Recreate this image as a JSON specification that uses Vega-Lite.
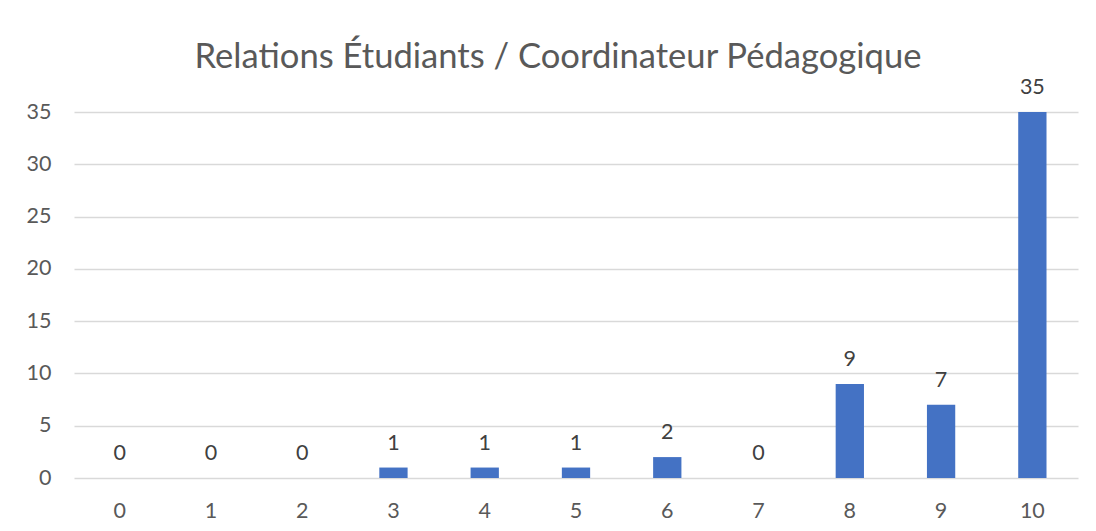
{
  "$schema": "https://vega.github.io/schema/vega-lite/v6.json",
  "width": 1004,
  "height": 366,
  "autosize": {"type": "none"},
  "padding": {"left": 74, "top": 112, "right": 18, "bottom": 53},
  "background": "#ffffff",
  "title": {
    "text": "Relations Étudiants / Coordinateur Pédagogique",
    "font": "Lato",
    "fontSize": 34.6,
    "fontWeight": "normal",
    "color": "#595959",
    "anchor": "middle",
    "dx": -18,
    "baseline": "alphabetic",
    "offset": -26
  },
  "data": {
    "values": [
      {"note": "0", "count": 0},
      {"note": "1", "count": 0},
      {"note": "2", "count": 0},
      {"note": "3", "count": 1},
      {"note": "4", "count": 1},
      {"note": "5", "count": 1},
      {"note": "6", "count": 2},
      {"note": "7", "count": 0},
      {"note": "8", "count": 9},
      {"note": "9", "count": 7},
      {"note": "10", "count": 35}
    ]
  },
  "encoding": {
    "x": {
      "field": "note",
      "type": "ordinal",
      "sort": null,
      "scale": {"paddingInner": 0.69, "paddingOuter": 0.345},
      "axis": {
        "title": null,
        "labelAngle": 0,
        "ticks": false,
        "domain": false,
        "grid": false,
        "labelFont": "Lato",
        "labelFontSize": 21.5,
        "labelColor": "#595959",
        "labelPadding": 22
      }
    },
    "y": {
      "field": "count",
      "type": "quantitative",
      "scale": {"domain": [0, 35], "nice": false},
      "axis": {
        "title": null,
        "values": [0, 5, 10, 15, 20, 25, 30, 35],
        "ticks": false,
        "domain": false,
        "gridColor": "#D9D9D9",
        "gridWidth": 1.5,
        "labelFont": "Lato",
        "labelFontSize": 21.5,
        "labelColor": "#595959",
        "labelPadding": 23
      }
    }
  },
  "layer": [
    {"mark": {"type": "bar", "color": "#4472C4"}},
    {
      "mark": {
        "type": "text",
        "font": "Lato",
        "fontSize": 21.5,
        "color": "#404040",
        "baseline": "alphabetic",
        "dy": -18
      },
      "encoding": {"text": {"field": "count", "type": "quantitative"}}
    }
  ],
  "config": {"view": {"stroke": null}}
}
